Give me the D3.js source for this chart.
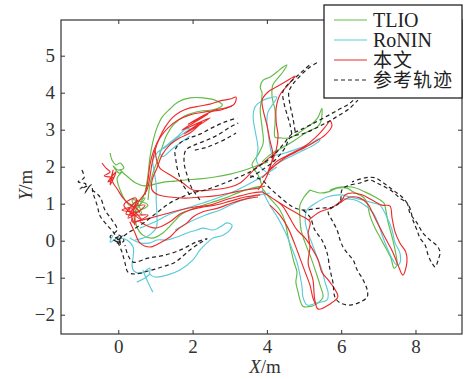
<!DOCTYPE html>
<html><head><meta charset="utf-8">
<script src="https://cdn.jsdelivr.net/npm/d3@7"></script>
<style>
body{margin:0;background:#fff}svg{display:block}
svg text{font-family:"Liberation Serif","Times New Roman",Tinos,"DejaVu Serif",serif}
svg text.cjk{font-family:"Noto Sans CJK SC","Noto Sans CJK JP",sans-serif}
</style>
</head><body>
<svg id="c" width="466" height="379"></svg>
<script>
// ---------- data (metres) ----------
const xTicks = [0, 2, 4, 6, 8];
const yTicks = [-2, -1, 0, 1, 2, 3, 4, 5];
const seriesNames = ["TLIO", "RoNIN", "本文", "参考轨迹"];
const seriesColors = ["#62bb46", "#5ccbd9", "#ee2b2b", "#222222"];

const tlio = [
  [[-0.22,2.37],[-0.17,2.18],[-0.06,2.05],[0.05,2.10],[0.15,1.96],[-0.01,1.91],[-0.14,2.02],[0.02,1.83],[0.10,1.86],[-0.03,1.70],[0.05,1.37],[0.18,1.10],[0.31,0.94]],
  [[0.05,1.91],[0.26,1.72],[0.47,1.56],[0.72,1.48],[0.99,1.53],[1.26,1.59],[1.53,1.61],[1.80,1.64],[2.20,1.67],[2.60,1.72],[3.01,1.80],[3.41,1.91],[3.71,2.02],[4.03,2.13]],
  [[0.31,0.94],[0.72,1.15],[0.45,0.78],[0.80,0.96],[0.37,1.10],[0.64,0.69],[0.53,1.02]],
  [[0.53,1.02],[0.45,0.69],[0.50,0.37],[0.66,0.15],[0.93,0.07],[1.20,0.21],[1.47,0.48],[1.71,0.72],[2.06,0.88],[2.47,1.02],[2.87,1.15],[3.28,1.32],[3.60,1.42],[3.87,1.48]],
  [[0.58,0.96],[0.72,1.32],[0.80,1.78],[0.85,2.24],[0.93,2.67],[1.04,3.05],[1.18,3.34],[1.39,3.56],[1.61,3.75],[1.93,3.86],[2.28,3.86],[2.60,3.80],[2.80,3.67],[2.60,3.55],[2.20,3.50],[1.80,3.38],[1.50,3.15],[1.30,2.85],[1.18,2.52],[1.07,2.20],[0.96,1.91],[0.85,1.51],[0.80,1.10]],
  [[3.87,1.48],[3.76,1.78],[3.60,2.05],[3.76,2.32],[3.90,2.64],[3.87,3.07],[3.82,3.53],[3.87,3.99],[3.82,4.15],[3.90,4.34],[4.08,4.42],[4.27,4.56],[4.43,4.69],[4.54,4.75],[4.43,4.56],[4.30,4.40],[4.16,4.21],[4.14,3.88],[4.22,3.53],[4.22,3.18],[4.22,2.80],[4.35,2.78],[4.62,2.78],[4.89,2.94],[5.08,3.07],[5.24,3.18],[5.38,3.34],[5.48,3.58],[5.45,3.21],[5.35,3.07],[5.08,2.94],[4.76,2.72],[4.41,2.51],[4.08,2.32],[3.87,2.13]],
  [[3.87,1.42],[4.08,1.15],[4.35,0.83],[4.49,0.51],[4.57,0.10],[4.65,-0.25],[4.73,-0.58],[4.81,-0.85],[4.78,-1.12],[4.84,-1.39],[4.89,-1.60],[4.97,-1.77],[5.21,-1.77],[5.38,-1.68],[5.51,-1.52],[5.43,-1.20],[5.32,-0.85],[5.19,-0.47],[5.03,-0.06],[4.92,0.29],[4.89,0.61],[4.89,0.96],[5.00,1.18],[5.16,1.37]],
  [[5.16,1.37],[5.43,1.29],[5.65,1.32],[5.89,1.42],[6.16,1.42],[6.32,1.32],[6.59,1.18],[6.70,1.02],[6.77,0.69],[6.91,0.34],[7.04,0.10],[7.20,-0.20],[7.34,-0.47],[7.42,-0.74],[7.50,-0.66],[7.45,-0.25],[7.37,0.10],[7.26,0.51],[7.20,0.83],[7.15,1.02],[6.91,1.18],[6.64,1.32],[6.29,1.45],[5.97,1.45],[5.70,1.37]]
];

const ronin = [
  [[-0.14,0.15],[-0.22,-0.04],[-0.01,0.07],[0.23,0.02],[0.40,-0.17],[0.40,-0.44],[0.37,-0.66],[0.42,-0.82],[0.64,-0.87],[0.85,-0.74],[0.85,-0.90],[0.99,-0.98],[1.31,-0.93],[1.66,-0.79],[2.01,-0.52],[2.20,-0.25],[2.39,-0.06],[2.55,0.07],[2.82,0.15],[3.01,0.29],[3.06,0.42],[2.93,0.48],[2.74,0.37],[2.55,0.29],[2.28,0.34],[2.12,0.29],[1.85,0.21],[1.58,0.10],[1.31,0.02],[1.04,0.02],[0.85,-0.06],[0.58,-0.06],[0.31,0.07]],
  [[0.66,-0.79],[0.77,-1.06],[0.93,-1.39]],
  [[0.50,-1.12],[0.72,-1.01],[0.85,-0.90]],
  [[0.45,0.02],[0.80,0.13],[1.02,0.34],[1.04,0.69],[1.02,1.10],[1.02,1.51],[0.96,1.91],[0.93,2.18],[1.07,2.40],[1.28,2.53],[1.55,2.75],[1.77,2.91],[1.93,3.02],[1.82,3.02],[1.61,2.83],[1.34,2.61],[1.12,2.40],[1.20,2.27],[1.45,2.48],[1.71,2.67],[1.93,2.83]],
  [[0.58,0.34],[0.99,0.51],[1.39,0.72],[1.85,0.88],[2.28,1.02],[2.74,1.18],[3.20,1.37],[3.63,1.59],[3.95,1.78],[4.27,1.99]],
  [[1.53,0.29],[1.93,0.51],[2.33,0.69],[2.74,0.83],[3.14,1.02],[3.49,1.15],[3.82,1.24],[4.08,1.29]],
  [[4.08,1.78],[3.73,2.13],[3.76,2.51],[3.68,2.99],[3.63,3.32],[3.68,3.61],[3.87,3.78],[4.08,3.86],[4.27,3.88],[4.16,3.69],[4.03,3.48],[4.00,3.21],[4.03,2.94],[4.08,2.59],[4.16,2.32],[4.49,2.37],[4.89,2.51],[5.21,2.64],[5.38,2.75],[5.43,2.72],[5.27,2.59],[4.89,2.40],[4.57,2.24],[4.22,2.05]],
  [[3.87,1.37],[4.08,0.96],[4.30,0.61],[4.49,0.24],[4.67,-0.20],[4.81,-0.58],[4.89,-0.93],[4.95,-1.28],[4.97,-1.52],[5.08,-1.74],[5.35,-1.68],[5.62,-1.60],[5.65,-1.41],[5.57,-1.14],[5.48,-0.79],[5.35,-0.44],[5.21,-0.06],[5.08,0.29],[5.03,0.56],[5.08,0.83],[5.32,1.02]],
  [[5.32,1.02],[5.62,1.18],[5.97,1.24],[6.24,1.18],[6.59,1.10],[6.86,1.02],[7.04,0.96],[7.23,0.64],[7.37,0.29],[7.45,-0.06],[7.58,-0.33],[7.58,-0.60],[7.50,-0.66],[7.39,-0.52],[7.26,-0.25],[7.12,0.10],[6.99,0.48],[6.86,0.75],[6.70,0.91],[6.37,1.10],[6.02,1.13]]
];

const ours = [
  [[-0.44,2.10],[-0.33,1.96],[-0.22,1.86],[-0.38,1.75],[-0.12,1.70],[-0.28,1.59],[-0.06,1.86],[-0.22,1.51],[-0.14,1.91],[-0.17,1.64],[-0.01,1.37],[0.13,1.15],[0.26,1.02]],
  [[0.26,1.02],[0.58,0.78],[0.10,0.83],[0.72,0.96],[0.26,0.61],[0.53,1.10],[0.21,0.72],[0.80,0.69],[0.37,0.51],[0.48,1.15],[0.15,0.96],[0.64,0.56],[0.31,0.88],[0.45,0.42],[0.40,0.83]],
  [[0.40,0.83],[0.58,1.10],[0.77,1.37],[0.85,1.72],[0.91,2.10],[0.99,2.45],[1.12,2.80],[1.26,3.07],[1.45,3.32],[1.66,3.48],[1.93,3.59],[2.20,3.64],[2.47,3.69],[2.74,3.78],[3.01,3.83],[3.17,3.88],[3.12,3.69],[2.90,3.59],[2.60,3.53],[1.88,3.15],[2.41,3.42],[1.71,2.99],[2.47,3.32],[1.77,2.88],[2.25,3.21],[1.93,2.91],[1.66,2.78],[1.39,2.59],[1.18,2.32],[1.04,1.96],[0.91,1.64],[0.91,1.37],[1.07,1.24],[1.39,1.18],[1.80,1.15],[2.20,1.18],[2.60,1.21],[3.01,1.29],[3.41,1.37],[3.76,1.42],[3.95,1.48]],
  [[0.99,2.45],[1.04,2.15],[1.12,1.96],[1.39,1.78],[1.74,1.56],[2.01,1.37],[2.47,1.37],[3.01,1.45],[3.28,1.56],[3.46,1.72],[3.73,1.99],[3.90,2.10],[4.08,2.26],[4.27,2.40]],
  [[0.72,1.24],[0.80,1.64],[0.85,2.05],[0.96,2.45],[1.12,2.78],[1.34,3.05],[1.61,3.26],[1.93,3.40],[2.33,3.48],[2.74,3.53],[3.06,3.64]],
  [[0.45,0.51],[0.85,0.61],[1.26,0.72],[1.66,0.83],[2.06,0.91],[2.47,0.96],[2.87,1.10],[3.28,1.21],[3.60,1.29],[3.87,1.32]],
  [[0.31,0.51],[0.45,0.21],[0.58,-0.06],[0.85,-0.17],[1.12,-0.06],[1.39,0.10],[1.58,0.29],[1.85,0.48],[2.01,0.64],[2.28,0.78],[2.68,0.88],[3.06,1.02],[3.44,1.13],[3.76,1.18]],
  [[0.58,0.51],[0.99,0.34],[1.39,0.51],[1.66,0.72],[1.93,0.83],[2.28,0.91],[2.60,0.96],[3.01,1.07],[3.41,1.18],[3.82,1.24]],
  [[3.76,1.37],[3.95,1.64],[4.08,1.96],[4.16,2.32],[4.08,2.72],[4.00,3.13],[3.90,3.53],[3.87,3.80],[4.03,4.02],[4.30,4.18],[4.62,4.37],[4.76,4.45],[4.57,4.21],[4.35,3.94],[4.25,3.59],[4.25,3.21],[4.30,2.83],[4.25,2.45],[4.14,2.13],[4.03,1.86],[4.25,2.13],[4.62,2.34],[5.03,2.56],[5.38,2.86],[5.59,3.10],[5.70,3.24],[5.75,3.10],[5.57,2.86],[5.24,2.64],[4.89,2.45],[4.49,2.24],[4.14,1.96],[3.87,1.70]],
  [[3.87,1.32],[4.14,1.15],[4.40,0.96],[4.62,0.61],[4.81,0.29],[5.03,0.07],[5.21,-0.20],[5.38,-0.52],[5.48,-0.85],[5.65,-1.06],[5.81,-1.28],[5.91,-1.52],[5.70,-1.71],[5.38,-1.85],[5.29,-1.60],[5.24,-1.06],[5.11,-0.60],[5.16,-0.17],[5.11,0.20],[5.16,0.51],[4.89,0.69],[4.57,0.88],[4.22,1.10]],
  [[4.08,0.96],[4.35,0.69],[4.57,0.34],[4.76,-0.12],[4.89,-0.47],[5.03,-0.85],[5.16,-1.20],[5.24,-1.55],[5.32,-1.74]],
  [[5.13,0.56],[5.43,0.78],[5.78,0.91],[6.02,1.10],[6.11,1.24],[6.29,1.29],[6.56,1.24],[6.83,1.10],[7.10,0.96],[7.31,0.94],[7.37,0.61],[7.45,0.24],[7.58,-0.06],[7.74,-0.31],[7.77,-0.58],[7.66,-0.93],[7.53,-0.66],[7.39,-0.31],[7.26,-0.06],[7.10,0.24],[6.96,0.51],[6.83,0.78],[6.72,0.99],[6.51,1.15],[6.24,1.18],[5.97,1.02]]
];

const reference = [
  [[-0.98,1.91],[-0.92,1.70],[-1.08,1.59],[-0.87,1.53],[-1.03,1.40],[-0.79,1.48],[-0.90,1.29],[-0.73,1.51],[-0.68,1.29],[-0.57,0.96],[-0.49,0.67],[-0.30,0.42],[-0.14,0.24],[-0.01,0.02]],
  [[-0.71,1.37],[-0.49,1.18],[-0.36,0.83],[-0.17,0.56],[-0.03,0.29],[-0.22,0.10],[0.05,-0.06]],
  [[-0.09,0.07],[0.10,0.13],[-0.03,-0.06],[0.15,-0.01],[0.02,0.15],[0.07,-0.12],[0.0,0.05]],
  [[-0.01,-0.04],[0.10,-0.31],[0.18,-0.60],[0.26,-0.85],[0.45,-0.90],[0.80,-0.82],[1.18,-0.71],[1.53,-0.58],[1.93,-0.25],[2.20,-0.06],[2.39,0.05],[2.09,-0.04],[1.74,-0.22],[1.26,-0.39],[0.80,-0.47],[0.40,-0.58],[0.26,-0.39],[0.18,-0.12]],
  [[-0.01,0.02],[0.31,0.24],[0.72,0.51],[1.07,0.78],[1.39,1.02],[1.71,1.18],[1.98,1.29],[2.33,1.37],[2.74,1.51],[3.20,1.70],[3.55,1.86],[3.87,2.07],[4.16,2.29],[4.43,2.59],[4.67,2.88],[4.89,2.99],[5.21,3.15],[5.57,3.34],[5.91,3.53],[6.24,3.72],[6.43,3.91]],
  [[3.55,1.70],[3.87,1.91],[4.22,2.18],[4.49,2.51],[4.62,2.78],[5.03,2.91],[5.43,3.10],[5.83,3.32],[6.24,3.59],[6.45,3.80]],
  [[4.67,2.88],[4.62,3.15],[4.54,3.42],[4.46,3.72],[4.43,4.02],[4.57,4.23],[4.78,4.42],[4.99,4.61],[5.21,4.80]],
  [[4.76,2.96],[4.70,3.32],[4.62,3.69],[4.59,4.02],[4.70,4.23],[4.89,4.45],[5.13,4.67],[5.38,4.83]],
  [[3.55,1.75],[3.87,1.64],[4.08,1.42],[4.35,1.18],[4.70,0.91],[4.97,0.83],[5.43,0.88],[5.78,0.91],[5.97,1.05],[6.02,1.37],[6.16,1.48],[6.51,1.56],[6.77,1.64],[6.96,1.56],[7.18,1.45],[7.39,1.32],[7.58,1.15],[7.77,1.02],[7.85,0.75],[8.04,0.48],[8.20,0.21],[8.39,0.02],[8.58,-0.14],[8.66,-0.31],[8.61,-0.52],[8.53,-0.71],[8.44,-0.60],[8.34,-0.39],[8.26,-0.12],[8.12,0.07],[8.04,0.29],[7.93,0.56],[7.85,0.88],[7.64,1.18],[7.39,1.37],[7.18,1.53],[6.91,1.70],[6.64,1.70],[6.29,1.59]],
  [[4.97,0.83],[5.16,0.64],[5.29,0.29],[5.48,0.02],[5.62,-0.33],[5.70,-0.79],[5.78,-1.14],[5.83,-1.52],[5.97,-1.68],[6.24,-1.74],[6.51,-1.66],[6.70,-1.52],[6.70,-1.33],[6.59,-1.06],[6.43,-0.79],[6.32,-0.52],[6.16,-0.33],[6.05,-0.17],[5.97,0.02],[5.89,0.29],[5.75,0.56],[5.65,0.78],[5.78,0.91]],
  [[1.93,1.24],[1.74,1.51],[1.61,1.86],[1.55,2.18],[1.53,2.45],[1.66,2.64],[1.93,2.78],[2.20,2.88],[2.52,3.05],[2.87,3.21],[3.20,3.32]],
  [[2.20,1.10],[1.98,1.42],[1.85,1.78],[1.77,2.13],[1.82,2.45],[2.06,2.59],[2.39,2.72],[2.68,2.86],[3.01,3.07],[3.23,3.18]],
  [[2.06,2.45],[2.33,2.51],[2.60,2.61],[2.95,2.78],[3.17,2.91]]
];

// ---------- layout ----------
const svg = d3.select("#c");
const plot = {left: 61, right: 462, top: 20, bottom: 334};
const x = d3.scaleLinear().domain([-1.542, 9.252]).range([plot.left, plot.right]);
const y = d3.scaleLinear().domain([-2.522, 5.965]).range([plot.bottom, plot.top]);
const axisColor = "#333";

svg.append("defs").append("clipPath").attr("id", "clip")
  .append("rect").attr("x", plot.left).attr("y", plot.top)
  .attr("width", plot.right - plot.left).attr("height", plot.bottom - plot.top);

const line = d3.line().x(d => x(d[0])).y(d => y(d[1])).curve(d3.curveCatmullRom.alpha(0.5));
const g = svg.append("g").attr("clip-path", "url(#clip)");
const allSeries = [tlio, ronin, ours, reference];
allSeries.forEach((segs, i) => {
  g.append("g").selectAll("path").data(segs).join("path")
    .attr("d", line).attr("fill", "none")
    .attr("stroke", seriesColors[i]).attr("stroke-width", i === 3 ? 1.2 : 1.15)
    .attr("stroke-dasharray", i === 3 ? "4,3" : null)
    .attr("stroke-linejoin", "round");
});

// axes
const fmt = d => d < 0 ? "\u2212" + Math.abs(d) : String(d);
function styleAxis(sel, showLabels) {
  sel.attr("font-family", null).attr("font-size", null);
  sel.select(".domain").remove();
  sel.selectAll(".tick line").attr("stroke", axisColor).attr("stroke-width", 1);
  sel.selectAll(".tick text").attr("fill", axisColor).style("font-size", "19px");
  if (!showLabels) sel.selectAll(".tick text").remove();
}
svg.append("g").attr("transform", `translate(0,${plot.bottom})`)
  .call(d3.axisBottom(x).tickValues(xTicks).tickSize(-4).tickPadding(6).tickFormat(fmt)).call(s => styleAxis(s, true));
svg.append("g").attr("transform", `translate(0,${plot.top})`)
  .call(d3.axisTop(x).tickValues(xTicks).tickSize(-4)).call(s => styleAxis(s, false));
svg.append("g").attr("transform", `translate(${plot.left},0)`)
  .call(d3.axisLeft(y).tickValues(yTicks).tickSize(-4).tickPadding(6).tickFormat(fmt)).call(s => styleAxis(s, true));
svg.append("g").attr("transform", `translate(${plot.right},0)`)
  .call(d3.axisRight(y).tickValues(yTicks).tickSize(-4)).call(s => styleAxis(s, false));

svg.append("rect").attr("x", plot.left).attr("y", plot.top)
  .attr("width", plot.right - plot.left).attr("height", plot.bottom - plot.top)
  .attr("fill", "none").attr("stroke", axisColor).attr("stroke-width", 1.2);

// axis titles
const xt = svg.append("text").attr("x", 265).attr("y", 373).attr("text-anchor", "middle")
  .style("font-size", "19px").attr("fill", axisColor);
xt.append("tspan").style("font-style", "italic").text("X");
xt.append("tspan").text("/m");
const yt = svg.append("text").attr("transform", "translate(32,185) rotate(-90)").attr("text-anchor", "middle")
  .style("font-size", "19px").attr("fill", axisColor);
yt.append("tspan").style("font-style", "italic").text("Y");
yt.append("tspan").text("/m");

// legend
const lg = svg.append("g");
lg.append("rect").attr("x", 324).attr("y", 5).attr("width", 138).attr("height", 93)
  .attr("fill", "#fff").attr("stroke", "#111").attr("stroke-width", 1.2);
seriesNames.forEach((name, i) => {
  const ly = 20 + i * 20;
  lg.append("line").attr("x1", 334).attr("x2", 367).attr("y1", ly).attr("y2", ly)
    .attr("stroke", seriesColors[i]).attr("stroke-width", 1.2)
    .attr("stroke-dasharray", i === 3 ? "4,3" : null);
  const cjk = /[\u4e00-\u9fff]/.test(name);
  lg.append("text").attr("class", cjk ? "cjk" : null)
    .attr("x", 373).attr("y", ly + (cjk ? 7 : 6.5))
    .style("font-size", cjk ? "19px" : "20px")
    .style("letter-spacing", cjk ? "1px" : null)
    .attr("fill", "#222").text(name);
});
</script>
</body></html>
